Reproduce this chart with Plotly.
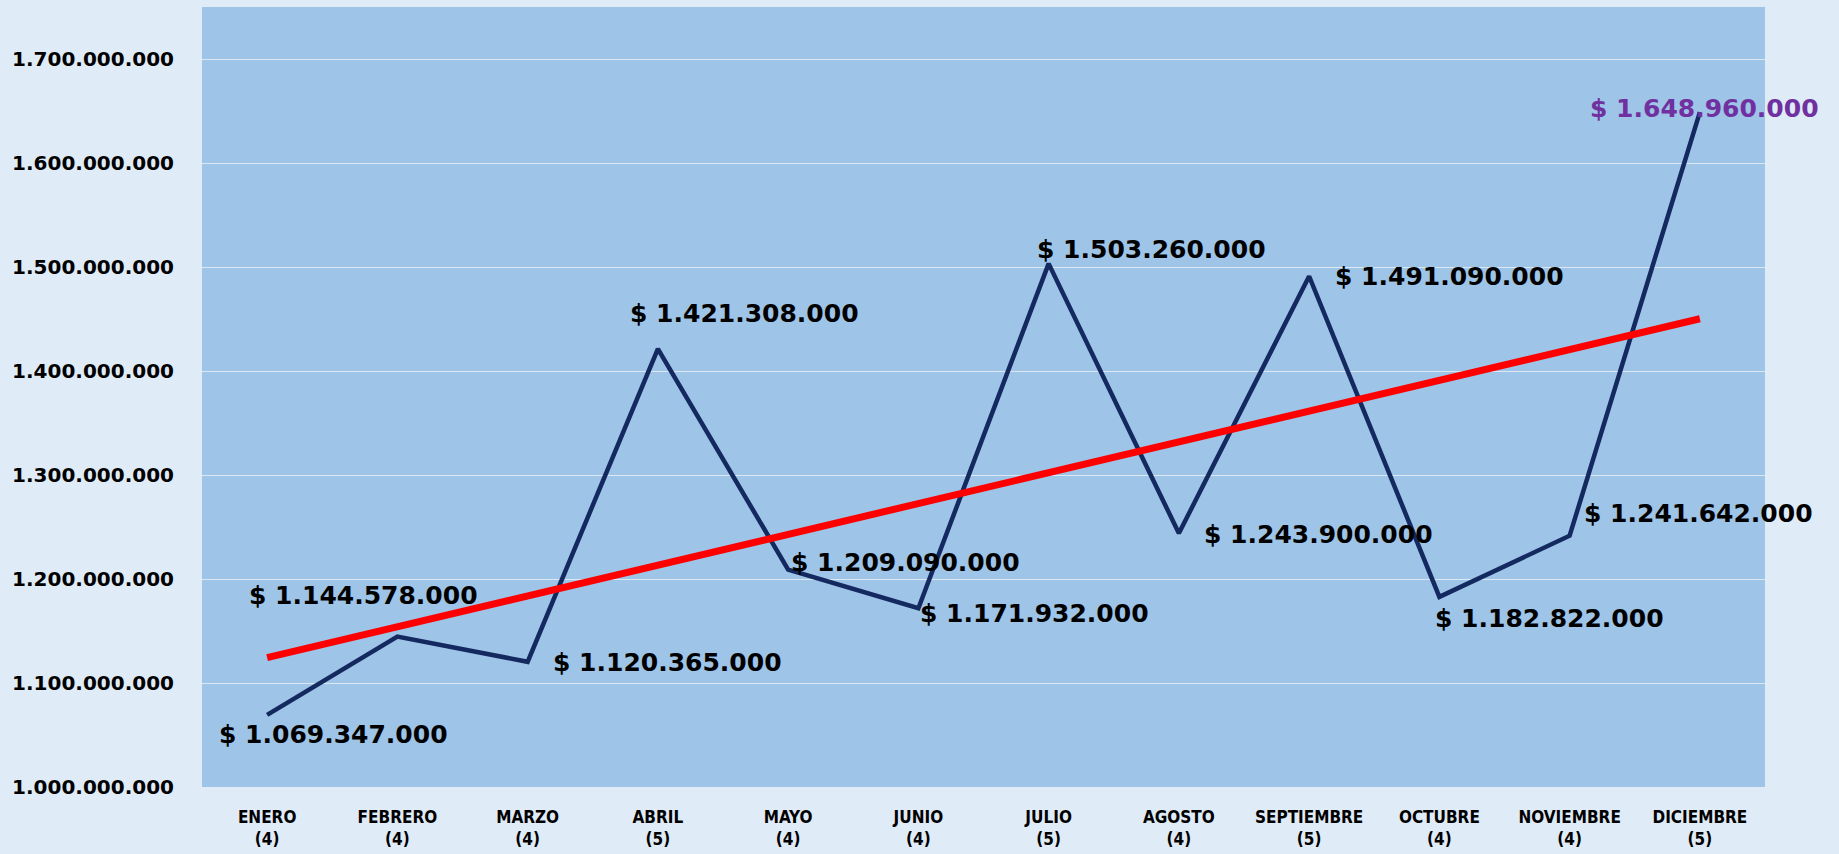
import numpy as np
import plotly.graph_objects as go

# ---- data ----
months = ["ENERO", "FEBRERO", "MARZO", "ABRIL", "MAYO", "JUNIO", "JULIO",
          "AGOSTO", "SEPTIEMBRE", "OCTUBRE", "NOVIEMBRE", "DICIEMBRE"]
weeks = [4, 4, 4, 5, 4, 4, 5, 4, 5, 4, 4, 5]
values = [1069347000, 1144578000, 1120365000, 1421308000, 1209090000, 1171932000,
          1503260000, 1243900000, 1491090000, 1182822000, 1241642000, 1648960000]
y_ticks = [1000000000, 1100000000, 1200000000, 1300000000, 1400000000,
           1500000000, 1600000000, 1700000000]

# ---- style: label offsets in px (x right, y up) ----
label_dx = [66, -34, 140, 87, 117, 116, 103, 140, 140, 110, 129, 5]
label_dy = [-20, 41, -1, 35, 7, -5, 14, -1, 0, -22, 22, 4]
label_colors = ["#000000"] * 11 + ["#7030a0"]

PAPER = "#dfebf7"

def dots(v):
    return f"{v:,}".replace(",", ".")

cats = [f"{m}<br>({w})" for m, w in zip(months, weeks)]
xi = list(range(len(values)))

# linear trend (like Excel trendline)
slope, intercept = np.polyfit(xi, values, 1)
trend = [intercept + slope * i for i in xi]

fig = go.Figure()
fig.add_trace(go.Scatter(x=xi, y=values, mode="lines",
                         line=dict(color="#13295f", width=4.5), hoverinfo="skip"))
fig.add_trace(go.Scatter(x=[xi[0], xi[-1]], y=[trend[0], trend[-1]], mode="lines",
                         line=dict(color="#ff0000", width=7), hoverinfo="skip"))

for i, v in enumerate(values):
    fig.add_annotation(x=i, y=v, text=f"$ {dots(v)}", showarrow=False,
                       xshift=label_dx[i], yshift=label_dy[i],
                       font=dict(family="DejaVu Sans", size=25, color=label_colors[i],
                                 weight="bold"),
                       xanchor="center", yanchor="middle")

fig.update_layout(
    width=1839, height=854,
    margin=dict(l=202, r=74, t=7, b=67),
    paper_bgcolor=PAPER,
    plot_bgcolor="#9ec4e7",
    showlegend=False,
    font=dict(family="DejaVu Sans", color="#000000"),
)
fig.update_xaxes(
    range=[-0.5, 11.5], tickmode="array", tickvals=xi, ticktext=cats,
    showgrid=False, zeroline=False, showline=False, automargin=False,
    ticks="", ticklabelstandoff=18,
    tickfont=dict(family="DejaVu Sans Condensed, Liberation Sans Narrow, sans-serif",
                  size=17, color="#000000", weight="bold"),
)
fig.update_yaxes(
    range=[1000000000, 1750000000], tickmode="array", tickvals=y_ticks,
    ticktext=[dots(t) for t in y_ticks],
    showgrid=True, gridcolor="#dbe8f4", gridwidth=1, zeroline=False, showline=False,
    automargin=False, ticks="", ticklabelstandoff=27,
    tickfont=dict(family="DejaVu Sans", size=20, color="#000000", weight="bold"),
)

fig.write_html(
    "out.html",
    config={"displayModeBar": False},
    post_script=("document.body.style.margin='0';"
                 "document.body.style.overflow='hidden';"
                 f"document.body.style.background='{PAPER}';"),
)
